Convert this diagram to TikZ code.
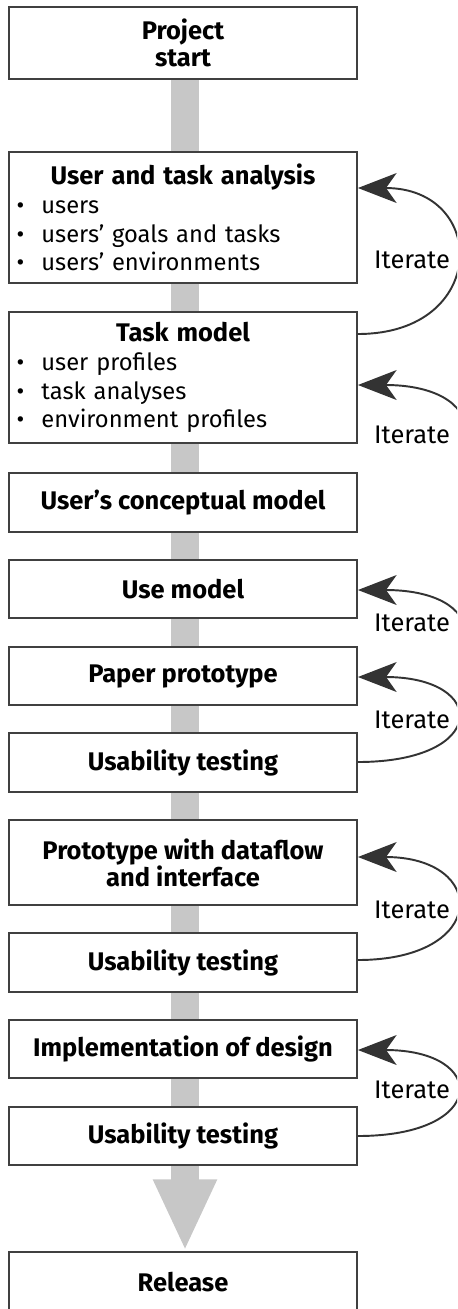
\documentclass[tikz,border=0pt]{standalone}
\usepackage{fontspec}
\setmainfont{Fira Sans}
\usetikzlibrary{arrows.meta,backgrounds}

% one line of a box list
\newcommand{\itm}[1]{\makebox[1.05em][l]{•}#1\par}

\begin{document}
\begin{tikzpicture}[
        x=0.02cm, y=-0.02cm,
        every node/.style={font=\fontsize{13.5}{16.4}\selectfont},
        stage/.style={draw=black!75, line width=1.1pt, fill=white, rectangle, minimum width=6.96cm, inner sep=0.15cm, align=center, font=\fontsize{14.5}{15.3}\selectfont\bfseries},
        liststage/.style={stage, text width=6.66cm, align=left, font=\fontsize{13.5}{16.4}\selectfont},
        iterate/.style={draw=black!80, line width=1.1pt, -{Stealth[length=22pt, width=17pt, inset=6pt]}},
        flow/.style={draw=black!22, line width=15.9pt},
        iterlabel/.style={font=\fontsize{14.5}{16}\selectfont}
    ]

        \clip (0,0) rectangle (457,1309);

        % Fasi
        \node[stage, minimum height=1.44cm] (start) at (183,43) {Project\\start};
        \node[liststage, minimum height=2.62cm] (analysis) at (183,217.5) {{\centering\bfseries\fontsize{14.5}{16.4}\selectfont User and task analysis\par}\itm{users}\itm{users' goals and tasks}\itm{users' environments}};
        \node[liststage, minimum height=2.62cm] (taskmodel) at (183,377.5) {{\centering\bfseries\fontsize{14.5}{16.4}\selectfont Task model\par}\itm{user profiles}\itm{task analyses}\itm{environment profiles}};
        \node[stage, minimum height=1.18cm] (concept) at (183,502.5) {User's conceptual model};
        \node[stage, minimum height=1.16cm] (usemodel) at (183,589) {Use model};
        \node[stage, minimum height=1.16cm] (paper) at (183,676) {Paper prototype};
        \node[stage, minimum height=1.18cm] (test1) at (183,762.5) {Usability testing};
        \node[stage, minimum height=1.70cm] (dataflow) at (183,862.5) {Prototype with dataflow\\and interface};
        \node[stage, minimum height=1.18cm] (test2) at (183,962.5) {Usability testing};
        \node[stage, minimum height=1.16cm] (impl) at (183,1049) {Implementation of design};
        \node[stage, minimum height=1.16cm] (test3) at (183,1136) {Usability testing};
        \node[stage, minimum height=1.20cm] (release) at (183,1282) {Release};

        % Freccia grigia di fondo
        \coordinate (spine) at (185,0);
        \begin{pgfonlayer}{background}
            \draw[flow, -{Triangle[length=40.8pt, width=33.4pt]}] (start.south -| spine) -- (release.north -| spine);
        \end{pgfonlayer}

        % Cicli di iterazione
        \coordinate (iterA) at (466,432);
        \coordinate (iterB) at (466,636);
        \draw[iterate] (taskmodel.east |- 0,334) .. controls +(131,0) and +(131,0) .. (analysis.east |- 0,188);
        \draw[iterate] (iterA) .. controls (466,402) and (432,385) .. (taskmodel.east |- 0,385);
        \draw[iterate] (iterB) .. controls (466,606) and (432,590) .. (usemodel.east |- 0,590);
        \draw[iterate] (test1.east |- 0,762) .. controls +(131,0) and +(131,0) .. (paper.east |- 0,677);
        \draw[iterate] (test2.east |- 0,960) .. controls +(131,0) and +(131,0) .. (dataflow.east |- 0,857);
        \draw[iterate] (test3.east |- 0,1136) .. controls +(131,0) and +(131,0) .. (impl.east |- 0,1050);

        % Etichette
        \node[iterlabel] (it1) at (412,260) {Iterate};
        \node[iterlabel] (it2) at (412,435) {Iterate};
        \node[iterlabel] (it3) at (412,623) {Iterate};
        \node[iterlabel] (it4) at (412,720) {Iterate};
        \node[iterlabel] (it5) at (412,910) {Iterate};
        \node[iterlabel] (it6) at (412,1090) {Iterate};

    \end{tikzpicture}
\end{document}
